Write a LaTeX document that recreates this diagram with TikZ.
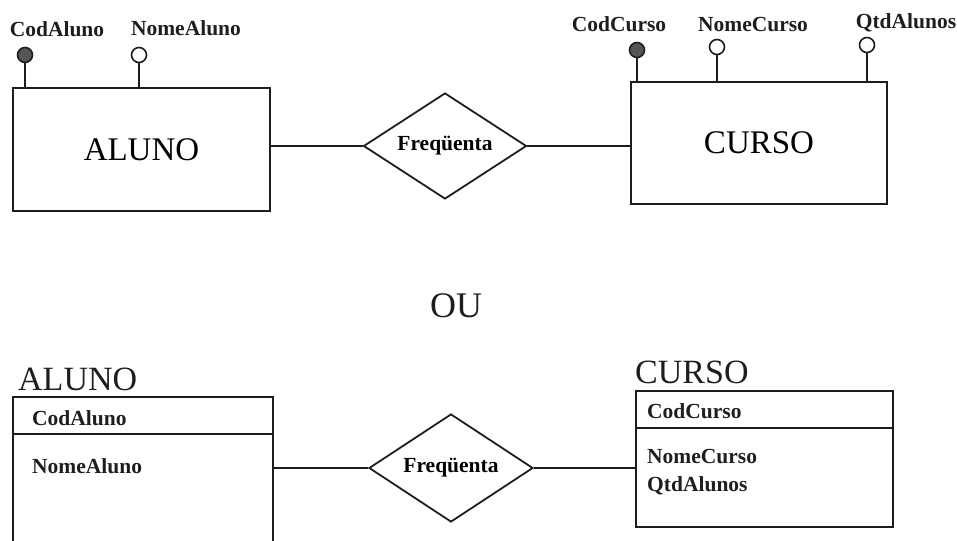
\documentclass[tikz,border=0pt]{standalone}
\usepackage{fontspec}
\setmainfont{Liberation Serif}
\usetikzlibrary{shapes.geometric}

\definecolor{ink}{HTML}{1E1E1E}
\definecolor{keyfill}{HTML}{555555}

\tikzset{
  link/.style={draw=ink, line width=1.8pt},
  entity/.style={draw=ink, line width=1.8pt, rectangle, inner sep=0pt,
                 font=\fontsize{33}{36}\selectfont},
  relation/.style={draw=ink, line width=1.8pt, diamond, aspect=1.5, inner sep=0pt,
                   font=\bfseries\fontsize{21.5}{24}\selectfont},
  attrlabel/.style={inner sep=0pt, anchor=base, text=ink,
                    font=\bfseries\fontsize{21.5}{24}\selectfont},
  fieldlabel/.style={inner sep=0pt, anchor=base west, text=ink,
                     font=\bfseries\fontsize{21.5}{24}\selectfont},
  title/.style={inner sep=0pt, anchor=base west, text=ink,
                font=\fontsize{34}{37}\selectfont},
  keyattr/.style={circle, draw=ink, line width=1.6pt, fill=keyfill,
                  minimum size=15pt, inner sep=0pt},
  plainattr/.style={circle, draw=ink, line width=1.6pt, fill=white,
                    minimum size=15pt, inner sep=0pt},
  header/.style={draw=ink, line width=1.8pt, rectangle, inner sep=0pt, outer sep=0pt},
  blank/.style={rectangle, inner sep=0pt, outer sep=0pt}
}

\begin{document}
\begin{tikzpicture}[x=1pt, y=-1pt]
\useasboundingbox (0,0) rectangle (957,540);

% ---------- Entity-relationship notation ----------
\node[entity, minimum width=257pt, minimum height=123pt] (aluno) at (141.5,149.5) {ALUNO};
\node[entity, minimum width=256pt, minimum height=122pt] (curso) at (759,143) {CURSO};
\node[relation, minimum width=163pt, minimum height=106pt] (freq) at (445,146) {Freqüenta};

\draw[link] (freq.west) -- (freq.west -| aluno.east);
\draw[link] (freq.east) -- (freq.east -| curso.west);

% attributes of ALUNO
\node[keyattr]   (codA)  at (25,55) {};
\node[plainattr] (nomeA) at (139,55) {};
\draw[link] (codA.south)  -- (codA.south  |- aluno.north);
\draw[link] (nomeA.south) -- (nomeA.south |- aluno.north);
\node[attrlabel] (codAlbl)  at (57,37)  {CodAluno};
\node[attrlabel] (nomeAlbl) at (186,36) {NomeAluno};

% attributes of CURSO
\node[keyattr]   (codC)  at (637,50) {};
\node[plainattr] (nomeC) at (717,47) {};
\node[plainattr] (qtdA)  at (867,45) {};
\draw[link] (codC.south)  -- (codC.south  |- curso.north);
\draw[link] (nomeC.south) -- (nomeC.south |- curso.north);
\draw[link] (qtdA.south)  -- (qtdA.south  |- curso.north);
\node[attrlabel] (codClbl)  at (619,32) {CodCurso};
\node[attrlabel] (nomeClbl) at (753,32) {NomeCurso};
\node[attrlabel] (qtdAlbl)  at (906,29) {QtdAlunos};

% ---------- separator ----------
\node[inner sep=0pt, anchor=base, text=ink, font=\fontsize{36}{40}\selectfont] (ou) at (456,317) {OU};

% ---------- table notation ----------
\node[title] (alunoT) at (18,390) {ALUNO};
\node[header, minimum width=260pt, minimum height=37pt] (alunoH) at (143,415.5) {};
\node[blank, minimum width=260pt, minimum height=110pt, anchor=north] (alunoB) at (alunoH.south) {};
\draw[link] (alunoB.north west) -- (alunoB.south west);
\draw[link] (alunoB.north east) -- (alunoB.south east);
\node[fieldlabel] (alunoK) at (32,425) {CodAluno};
\node[fieldlabel] (alunoF) at (32,473) {NomeAluno};

\node[title] (cursoT) at (635,383) {CURSO};
\node[header, minimum width=257pt, minimum height=37pt] (cursoH) at (764.5,409.5) {};
\node[header, minimum width=257pt, minimum height=99pt, anchor=north] (cursoB) at (cursoH.south) {};
\node[fieldlabel] (cursoK)  at (647,418) {CodCurso};
\node[fieldlabel] (cursoF1) at (647,463) {NomeCurso};
\node[fieldlabel] (cursoF2) at (647,491) {QtdAlunos};

\node[relation, minimum width=164pt, minimum height=108pt] (freqB) at (451,468) {Freqüenta};
\draw[link] (freqB.west) -- (freqB.west -| alunoB.east);
\draw[link] (freqB.east) -- (freqB.east -| cursoB.west);

\end{tikzpicture}
\end{document}
